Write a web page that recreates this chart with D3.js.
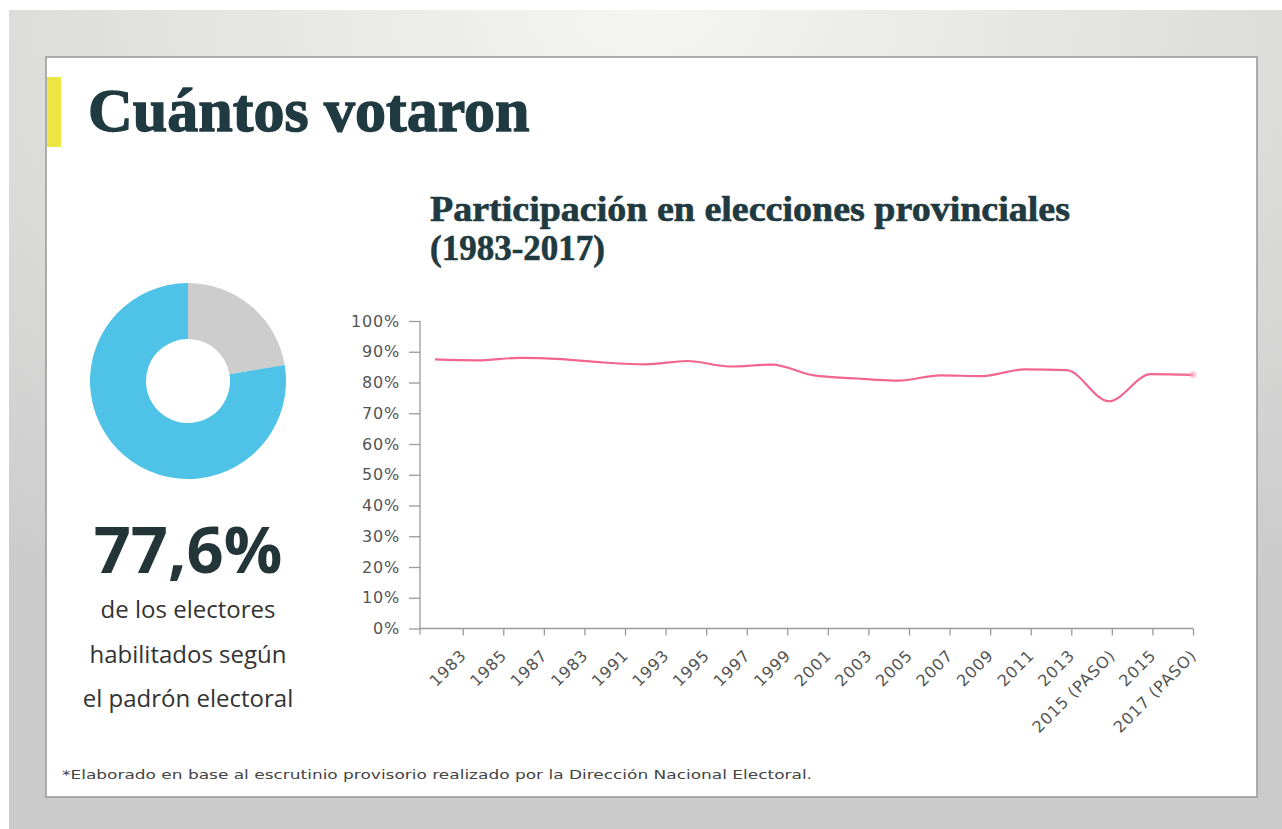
<!DOCTYPE html>
<html lang="es">
<head>
<meta charset="utf-8">
<title>Cuántos votaron</title>
<script src="https://cdn.jsdelivr.net/npm/d3@7"></script>
<style>
    html, body { margin: 0; padding: 0; background: #fff; }
    svg { display: block; }
</style>
</head>
<body>
<svg id="chart" width="1282" height="829"></svg>
<script>
// ============================================================================
// DATA
// ============================================================================

const categories = [
    "1983", "1985", "1987", "1983", "1991", "1993", "1995", "1997", "1999",
    "2001", "2003", "2005", "2007", "2009", "2011", "2013",
    "2015 (PASO)", "2015", "2017 (PASO)"
];

// participation (%) per election
const participation = [
    87.5, 87.2, 88.0, 87.6, 86.5, 85.9, 87.0, 85.2, 85.8,
    82.3, 81.3, 80.6, 82.3, 82.1, 84.3, 84.0,
    73.9, 82.7, 82.5
];

const yTicks = [0, 10, 20, 30, 40, 50, 60, 70, 80, 90, 100];

// donut: voted vs. did not vote
const turnout = [
    { key: "no", value: 22.4 },
    { key: "si", value: 77.6 }
];

const turnoutLabel = "77,6%";
const turnoutText = ["de los electores", "habilitados según", "el padrón electoral"];
const footnote = "*Elaborado en base al escrutinio provisorio realizado por la Dirección Nacional Electoral.";

// ============================================================================
// BACKGROUND + CARD
// ============================================================================

const svg = d3.select("#chart");
const defs = svg.append("defs");

const bg = defs.append("radialGradient")
    .attr("id", "bg")
    .attr("cx", "50%").attr("cy", "0%").attr("r", "85%");
bg.append("stop").attr("offset", "0%").attr("stop-color", "#f5f5f3");
bg.append("stop").attr("offset", "100%").attr("stop-color", "#cbcbcb");

svg.append("rect")
    .attr("x", 9).attr("y", 10)
    .attr("width", 1282 - 9).attr("height", 829 - 10)
    .attr("fill", "url(#bg)");

svg.append("rect")
    .attr("x", 46).attr("y", 57)
    .attr("width", 1211).attr("height", 740)
    .attr("fill", "#fff")
    .attr("stroke", "#9c9c9c")
    .attr("stroke-width", 1.6);

// yellow marker + main title
svg.append("rect")
    .attr("x", 47).attr("y", 77)
    .attr("width", 14).attr("height", 70)
    .attr("fill", "#ede544");

svg.append("text")
    .attr("x", 88).attr("y", 131)
    .attr("font-family", "'Liberation Serif', 'DejaVu Serif', serif")
    .attr("font-weight", "bold")
    .attr("font-size", 62)
    .attr("fill", "#1f3a40")
    .attr("stroke", "#1f3a40")
    .attr("stroke-width", 1.4)
    .text("Cuántos votaron");

// chart title
const subtitle = svg.append("text")
    .attr("font-family", "'Liberation Serif', 'DejaVu Serif', serif")
    .attr("font-weight", "bold")
    .attr("font-size", 35)
    .attr("fill", "#1f3a40")
    .attr("stroke", "#1f3a40")
    .attr("stroke-width", 0.6);
subtitle.append("tspan")
    .attr("x", 430).attr("y", 221)
    .attr("textLength", 640)
    .attr("lengthAdjust", "spacingAndGlyphs")
    .text("Participación en elecciones provinciales");
subtitle.append("tspan").attr("x", 430).attr("y", 260).text("(1983-2017)");

// ============================================================================
// DONUT
// ============================================================================

const donutColors = { no: "#cdcdcd", si: "#4ec3e7" };

const pie = d3.pie()
    .sort(null)
    .value(d => d.value);

const arc = d3.arc()
    .innerRadius(42)
    .outerRadius(98);

svg.append("g")
    .attr("transform", "translate(188,381)")
    .selectAll("path")
    .data(pie(turnout))
    .join("path")
    .attr("d", arc)
    .attr("fill", d => donutColors[d.data.key]);

svg.append("text")
    .attr("x", 188).attr("y", 573)
    .attr("text-anchor", "middle")
    .attr("font-family", "'Open Sans', 'Noto Sans', sans-serif")
    .attr("font-weight", "bold")
    .attr("font-size", 65)
    .attr("fill", "#233538")
    .text(turnoutLabel);

svg.append("g")
    .selectAll("text")
    .data(turnoutText)
    .join("text")
    .attr("x", 188)
    .attr("y", (d, i) => 618 + i * 44.5)
    .attr("text-anchor", "middle")
    .attr("font-family", "'Open Sans', 'Noto Sans', sans-serif")
    .attr("font-size", 24)
    .attr("fill", "#333")
    .text(d => d);

// ============================================================================
// LINE CHART
// ============================================================================

const axisColor = "#9a9a9a";
const labelFont = "'DejaVu Sans', 'Noto Sans', sans-serif";

const y = d3.scaleLinear()
    .domain([0, 100])
    .range([628.5, 321]);

const x = d3.scalePoint()
    .domain(d3.range(categories.length))
    .range([462.7, 1193]);

// the line sits slightly offset from the tick marks in the original
const xLine = d3.scalePoint()
    .domain(d3.range(categories.length))
    .range([435, 1193]);

// y axis
const yAxis = svg.append("g")
    .attr("transform", "translate(420,0)")
    .call(d3.axisLeft(y)
        .tickValues(yTicks)
        .tickSize(11)
        .tickSizeOuter(0)
        .tickFormat(d => d + "%"));

yAxis.select(".domain").remove();
yAxis.append("line")
    .attr("x1", 0).attr("x2", 0)
    .attr("y1", y(100)).attr("y2", y(0) + 6)
    .attr("stroke", axisColor)
    .attr("stroke-width", 1.3);
yAxis.selectAll(".tick line")
    .attr("stroke", axisColor)
    .attr("stroke-width", 1.3);
yAxis.selectAll(".tick text")
    .attr("x", -20)
    .attr("font-family", labelFont)
    .attr("font-size", 16)
    .attr("letter-spacing", 0.8)
    .attr("fill", "#555");

// x axis
const xAxis = svg.append("g")
    .attr("transform", `translate(0,${y(0)})`)
    .call(d3.axisBottom(x)
        .tickSize(7)
        .tickSizeOuter(0)
        .tickFormat(i => categories[i]));

xAxis.select(".domain").remove();
xAxis.append("line")
    .attr("x1", 420).attr("x2", 1193)
    .attr("stroke", axisColor)
    .attr("stroke-width", 1.3);
xAxis.selectAll(".tick line")
    .attr("stroke", axisColor)
    .attr("stroke-width", 1.3);
xAxis.selectAll(".tick text")
    .attr("x", 0).attr("y", 0).attr("dy", 0)
    .attr("transform", "translate(4,28) rotate(-45)")
    .attr("text-anchor", "end")
    .attr("font-family", labelFont)
    .attr("font-size", 16)
    .attr("letter-spacing", 0.8)
    .attr("fill", "#555");

// participation line
const line = d3.line()
    .x((d, i) => xLine(i))
    .y(d => y(d))
    .curve(d3.curveMonotoneX);

svg.append("path")
    .datum(participation)
    .attr("d", line)
    .attr("fill", "none")
    .attr("stroke", "#f2658f")
    .attr("stroke-width", 2.2)
    .attr("stroke-linejoin", "round");

// faint end marker
const last = participation.length - 1;
svg.append("circle")
    .attr("cx", xLine(last))
    .attr("cy", y(participation[last]))
    .attr("r", 3.5)
    .attr("fill", "#f7a9c2")
    .attr("opacity", 0.6);

// ============================================================================
// FOOTNOTE
// ============================================================================

svg.append("text")
    .attr("x", 62).attr("y", 779)
    .attr("font-family", labelFont)
    .attr("font-size", 13)
    .attr("textLength", 750)
    .attr("lengthAdjust", "spacingAndGlyphs")
    .attr("fill", "#444")
    .text(footnote);
</script>
</body>
</html>
